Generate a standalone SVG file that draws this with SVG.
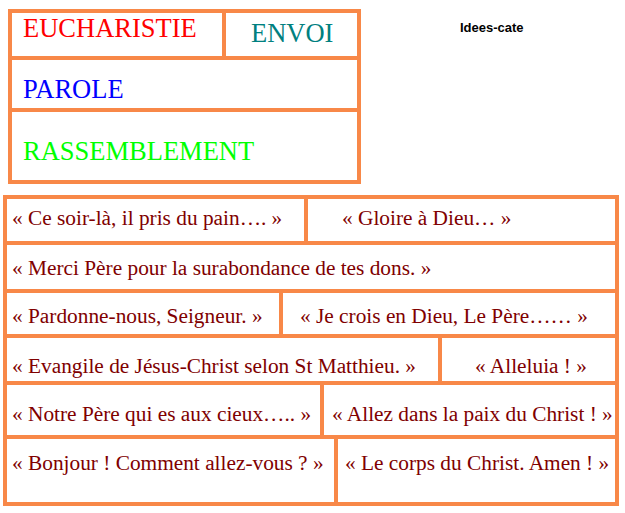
<svg xmlns="http://www.w3.org/2000/svg" width="625" height="513" viewBox="0 0 625 513">
<style>
.cell{fill:#ffffff;stroke:#f88848;stroke-width:4}
.t{font-family:"Liberation Serif","Times New Roman",serif;font-size:21.33px;fill:#800000}
.h{font-family:"Liberation Serif","Times New Roman",serif;font-size:26.5px}
.wm{font-family:"Liberation Sans",Arial,sans-serif;font-size:13px;font-weight:bold;fill:#000}
</style>
<rect width="625" height="513" fill="#ffffff"/>
<g id="connectors"></g>
<g id="eucharistie"><rect class="cell" x="10" y="11" width="214" height="47"/><text class="h" x="23" y="37" fill="#ff0000">EUCHARISTIE</text></g>
<g id="envoi"><rect class="cell" x="224" y="11" width="135" height="47"/><text class="h" x="251" y="42" fill="#008080">ENVOI</text></g>
<g id="parole"><rect class="cell" x="10" y="58" width="349" height="52"/><text class="h" x="23" y="98" fill="#0000ff">PAROLE</text></g>
<g id="rassemblement"><rect class="cell" x="10" y="110" width="349" height="72"/><text class="h" x="23" y="160" fill="#00ff00">RASSEMBLEMENT</text></g>
<g id="watermark"><text class="wm" x="460" y="32">Idees-cate</text></g>
<g id="r1a"><rect class="cell" x="5" y="197" width="301" height="46"/><text class="t" x="12" y="225">« Ce soir-là, il pris du pain…. »</text></g>
<g id="r1b"><rect class="cell" x="306" y="197" width="311" height="46"/><text class="t" x="342" y="225">« Gloire à Dieu… »</text></g>
<g id="r2"><rect class="cell" x="5" y="243" width="612" height="48"/><text class="t" x="12" y="275">« Merci Père pour la surabondance de tes dons. »</text></g>
<g id="r3a"><rect class="cell" x="5" y="291" width="276" height="45"/><text class="t" x="12" y="323">« Pardonne-nous, Seigneur. »</text></g>
<g id="r3b"><rect class="cell" x="281" y="291" width="336" height="45"/><text class="t" x="300" y="323">« Je crois en Dieu, Le Père…… »</text></g>
<g id="r4a"><rect class="cell" x="5" y="336" width="435" height="47"/><text class="t" x="12" y="373">« Evangile de Jésus-Christ selon St Matthieu. »</text></g>
<g id="r4b"><rect class="cell" x="440" y="336" width="177" height="47"/><text class="t" x="475" y="373">« Alleluia ! »</text></g>
<g id="r5a"><rect class="cell" x="5" y="383" width="317" height="54"/><text class="t" x="12" y="421">« Notre Père qui es aux cieux….. »</text></g>
<g id="r5b"><rect class="cell" x="322" y="383" width="295" height="54"/><text class="t" x="332" y="421">« Allez dans la paix du Christ ! »</text></g>
<g id="r6a"><rect class="cell" x="5" y="437" width="331" height="67"/><text class="t" x="12" y="470">« Bonjour ! Comment allez-vous ? »</text></g>
<g id="r6b"><rect class="cell" x="336" y="437" width="281" height="67"/><text class="t" x="345" y="470">« Le corps du Christ. Amen ! »</text></g>
</svg>
